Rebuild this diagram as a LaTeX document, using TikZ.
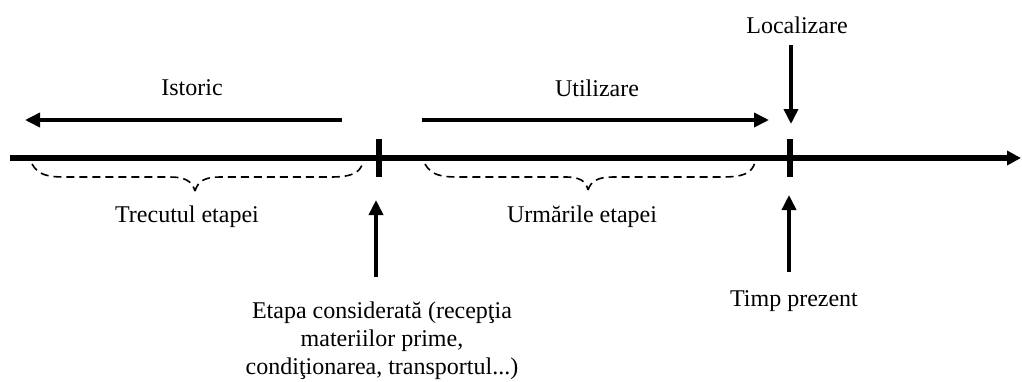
\documentclass[tikz,border=0pt]{standalone}
\usepackage{fontspec}
\setmainfont{Liberation Serif}
\usetikzlibrary{arrows.meta}
\begin{document}
\begin{tikzpicture}[x=1pt,y=-1pt,
  lbl/.style={inner sep=0pt,font=\fontsize{24}{28}\selectfont,align=center},
  arr/.style={line width=3.6pt,-{Triangle[length=15pt,width=14pt]}},
  axis/.style={line width=6pt,-{Triangle[length=14pt,width=14pt]}},
  tick/.style={line width=6pt},
  brace/.style={line width=1.6pt,dash pattern=on 8pt off 5pt}]
\useasboundingbox (0,0) rectangle (1022,381);
% axis
\coordinate (ax0) at (10,158);
\coordinate (ax1) at (1021,158);
\draw[axis] (ax0) -- (ax1);
% ticks
\coordinate (t1a) at (379,139); \coordinate (t1b) at (379,177);
\coordinate (t2a) at (790,139); \coordinate (t2b) at (790,177);
\draw[tick] (t1a) -- (t1b);
\draw[tick] (t2a) -- (t2b);
% top labels and arrows
\node[lbl] (istoric) at (192,88) {Istoric};
\node[lbl] (utilizare) at (597,88) {Utilizare};
\node[lbl] (localizare) at (797,25) {Localizare};
\coordinate (isA) at (342,120); \coordinate (isB) at (25,120);
\coordinate (utA) at (422,120); \coordinate (utB) at (769,120);
\coordinate (loA) at (791,45); \coordinate (loB) at (791,124);
\draw[arr] (isA) -- (isB);
\draw[arr] (utA) -- (utB);
\draw[arr] (loA) -- (loB);
% braces
\draw[brace] (32,164) .. controls (38,175) and (48,177) .. (65,177) -- (170,177)
  .. controls (185,177) and (192,181) .. (195,191);
\draw[brace] (195,191) .. controls (198,181) and (205,177) .. (220,177) -- (330,177)
  .. controls (350,177) and (360,174) .. (363,162);
\draw[brace] (425,164) .. controls (431,175) and (441,177) .. (458,177) -- (565,177)
  .. controls (580,177) and (586,181) .. (588,190);
\draw[brace] (588,190) .. controls (591,181) and (598,177) .. (613,177) -- (722,177)
  .. controls (742,177) and (752,174) .. (755,162);
\node[lbl] (trecut) at (187,217) {Trecutul etapei};
\node[lbl] (urmari) at (582,217) {Urmările etapei};
% bottom arrows and labels
\coordinate (etA) at (376,277); \coordinate (etB) at (376,200);
\coordinate (tpA) at (789,272); \coordinate (tpB) at (789,195);
\draw[arr] (etA) -- (etB);
\draw[arr] (tpA) -- (tpB);
\node[lbl] (etapa) at (382,341) {Etapa considerată (recepţia\\materiilor prime,\\condiţionarea, transportul...)};
\node[lbl] (timp) at (794,301) {Timp prezent};
\end{tikzpicture}
\end{document}
